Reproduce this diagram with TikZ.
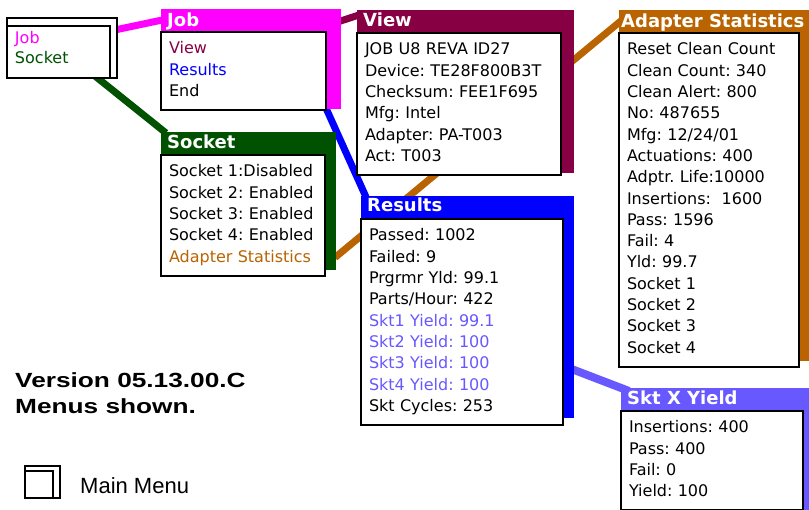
\documentclass[tikz,border=0pt]{standalone}
\usepackage{fontspec}
\setmainfont{DejaVu Sans}
\newfontfamily\titlefont{DejaVu Sans}
\newfontfamily\notefont{Liberation Sans}[FakeStretch=1.28]
\newfontfamily\legendfont{Liberation Sans}
\usetikzlibrary{calc}
\frenchspacing
\definecolor{jobmag}{RGB}{255,0,255}
\definecolor{viewmar}{RGB}{136,0,68}
\definecolor{resblue}{RGB}{0,0,255}
\definecolor{sockgreen}{RGB}{0,82,0}
\definecolor{adaptbrown}{RGB}{185,100,0}
\definecolor{sktpurple}{RGB}{104,88,255}
\newcommand\menufont{\fontsize{16}{21.3}\selectfont}
\pgfdeclarelayer{links}
\pgfdeclarelayer{bars}
\pgfsetlayers{links,bars,main}
\def\menubar[#1](#2)(#3:#4){\fill[#1] ($(#2.north west)+(0,-23)$) rectangle ($(#2.south east)+(#3,-#4)$);}
\tikzset{
	menubox/.style={draw, line width=2pt, outer sep=0pt, fill=white, anchor=north west, align=left, inner xsep=8pt, inner ysep=7pt, font=\menufont, execute at begin node=\strut, execute at end node=\strut},
	menutitle/.style={anchor=base west, inner sep=0pt, text=white, font=\titlefont\bfseries\fontsize{18}{20}\selectfont},
	notetext/.style={anchor=base west, inner sep=0pt, font=\notefont\bfseries\fontsize{20.5}{24}\selectfont},
	link/.style={line width=7pt}
}

\begin{document}
\begin{tikzpicture}[x=1pt, y=-1pt]
			%%%%% START %%%%%
			\useasboundingbox (0,0) rectangle (809,509);
			
			% main menu
			\node[draw, line width=2pt, outer sep=0pt, fill=white, anchor=north west, text width=87pt, align=left, inner xsep=8pt, inner ysep=3pt, font=\fontsize{16}{20}\selectfont, execute at begin node=\strut, execute at end node={\rule[-12pt]{0pt}{12pt}}] (mainmenu) at (7,26) {\textcolor{jobmag}{Job}\\\textcolor{sockgreen}{Socket}};
			
			% sub menus
			\node[menubox, text width=149pt] (job) at (161,32) {\textcolor{viewmar}{View}\\\textcolor{resblue}{Results}\\End};
			\node[menubox, text width=188pt] (view) at (357,33) {JOB U8 REVA ID27\\Device: TE28F800B3T\\Checksum: FEE1F695\\Mfg: Intel\\Adapter: PA-T003\\Act: T003};
			\node[menubox, text width=148pt] (socket) at (161,155) {Socket 1:Disabled\\Socket 2: Enabled\\Socket 3: Enabled\\Socket 4: Enabled\\\textcolor{adaptbrown}{Adapter Statistics}};
			\node[menubox, text width=186pt] (results) at (361,219) {Passed: 1002\\Failed: 9\\Prgrmr Yld: 99.1\\Parts/Hour: 422\\\textcolor{sktpurple}{Skt1 Yield: 99.1}\\\textcolor{sktpurple}{Skt2 Yield: 100}\\\textcolor{sktpurple}{Skt3 Yield: 100}\\\textcolor{sktpurple}{Skt4 Yield: 100}\\Skt Cycles: 253};
			\node[menubox, text width=164pt] (adapter) at (619,33) {Reset Clean Count\\Clean Count: 340\\Clean Alert: 800\\No: 487655\\Mfg: 12/24/01\\Actuations: 400\\Adptr. Life:10000\\Insertions:\ \ 1600\\Pass: 1596\\Fail: 4\\Yld: 99.7\\Socket 1\\Socket 2\\Socket 3\\Socket 4};
			\node[menubox, text width=166pt] (sktx) at (621,411) {Insertions: 400\\Pass: 400\\Fail: 0\\Yield: 100};
			
			% titles
			\node[menutitle] (jobtitle) at ($(job.north west)+(6,-6)$) {Job};
			\node[menutitle] (viewtitle) at ($(view.north west)+(6,-7)$) {View};
			\node[menutitle] (sockettitle) at ($(socket.north west)+(6,-7)$) {Socket};
			\node[menutitle] (resultstitle) at ($(results.north west)+(6,-8)$) {Results};
			\node[menutitle] (adaptertitle) at ($(adapter.north west)+(2,-6)$) {Adapter Statistics};
			\node[menutitle] (sktxtitle) at ($(sktx.north west)+(6,-7)$) {Skt X Yield};
			
			\begin{pgfonlayer}{bars}
			\draw[line width=2pt, fill=white] ($(mainmenu.north west)+(0,-8)$) rectangle ($(mainmenu.south east)+(7,0)$);
			\menubar[jobmag](job)(15:1)
			\menubar[viewmar](view)(13:2)
			\menubar[sockgreen](socket)(11:6)
			\menubar[resblue](results)(11:7)
			\menubar[adaptbrown](adapter)(20:6)
			\menubar[sktpurple](sktx)(20:0)
			\end{pgfonlayer}
			
			\begin{pgfonlayer}{links}
			\draw[link, jobmag] ($(mainmenu.north east)+(0,5)$) -- ($(job.north west)+(6,-13)$);
			\draw[link, sockgreen] ($(mainmenu.south east)+(-20,-6)$) -- ($(socket.north west)+(5,-22)$);
			\draw[link, viewmar] ($(job.north east)+(10,-9.5)$) -- ($(view.north west)+(5,-19)$);
			\draw[link, resblue] ($(job.south east)+(-1,-4)$) -- ($(results.north west)+(5,-22)$);
			\draw[link, adaptbrown] ($(socket.south east)+(10,-18)$) -- ($(adapter.north west)+(3,-13)$);
			\draw[link, sktpurple, line width=8pt] ($(results.south east)+(0,-59)$) -- ($(sktx.north west)+(8,-20)$);
			\end{pgfonlayer}
			
			% version note
			\node[notetext] (version) at (15,387) {Version 05.13.00.C};
			\node[notetext] (shown) at (15,413) {Menus shown.};
			
			% legend
			\draw[line width=2pt] (25,466) rectangle (60,498);
			\node[draw, line width=2pt, outer sep=0pt, fill=white, minimum width=28pt, minimum height=27pt, anchor=north west, inner sep=0pt] (legendbox) at (25,471) {};
			\node[anchor=base west, inner sep=0pt, font=\legendfont\fontsize{22}{26}\selectfont] (legendtext) at (80,493) {Main Menu};
			
			%%%%% END %%%%%
\end{tikzpicture}
\end{document}
